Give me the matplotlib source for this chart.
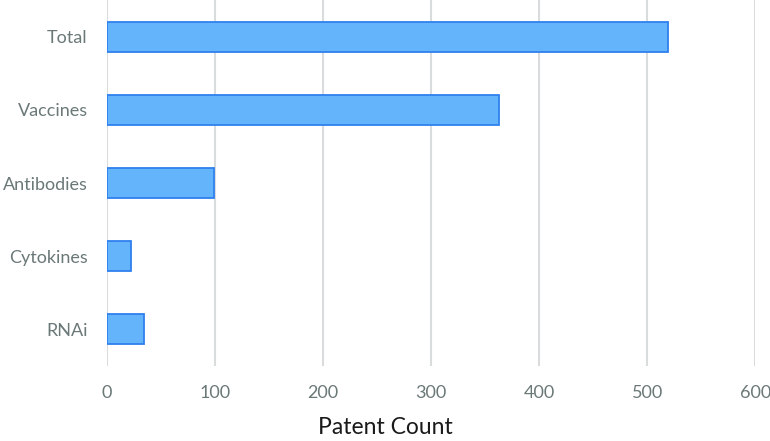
import numpy as np
import matplotlib.pyplot as plt

categories = ['Total', 'Vaccines', 'Antibodies', 'Cytokines', 'RNAi']
counts = [519, 363, 99, 22, 34]
xticks = [0, 100, 200, 300, 400, 500, 600]

plt.rcParams['font.family'] = ['Lato', 'DejaVu Sans']

fig = plt.figure(figsize=(7.7, 4.41), dpi=100)
ax = fig.add_axes([0.139, 0.17, 0.842, 0.83])

pos = np.arange(len(categories))
ax.barh(pos, counts, height=0.41, color='#64b4fc', edgecolor='#2f80ee', linewidth=1.3, zorder=3)

ax.set_ylim(len(categories) - 0.5, -0.5)
ax.set_xlim(0, 600)
ax.set_yticks(pos)
ax.set_yticklabels(categories)
ax.set_xticks(xticks)

ax.grid(axis='x', color='#d9dcdc', linewidth=1.5, zorder=0)
for s in ax.spines.values():
    s.set_visible(False)
ax.tick_params(axis='both', length=0, labelsize=13, labelcolor='#6b7878')
ax.tick_params(axis='y', pad=14)
ax.tick_params(axis='x', pad=14)

ax.set_xlabel('Patent Count', fontsize=16.5, color='#1a1a1a')
ax.xaxis.set_label_coords(0.43, -0.14)

fig.savefig('out.png', dpi=100)
